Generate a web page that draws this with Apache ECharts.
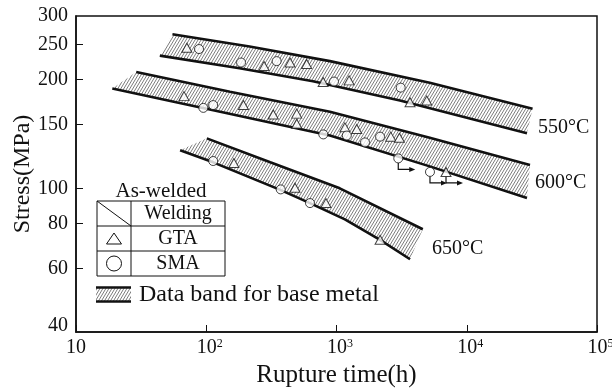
<!DOCTYPE html>
<html>
<head>
<meta charset="utf-8">
<script src="https://cdn.jsdelivr.net/npm/echarts@6/dist/echarts.min.js"></script>
<style>
html,body{margin:0;padding:0;background:#fff;}
#chart{width:612px;height:388px;}
</style>
</head>
<body>
<div id="chart"></div>
<script>
// ---------- data (time in h, stress in MPa) ----------
const xTickLabels = [10, 100, 1000, 10000, 100000];
const yTickLabels = [300, 250, 200, 150, 100, 80, 60, 40];
const yTickMarks = [250, 200, 150, 100, 80, 60];

const band550UpperTime = [55, 215, 890, 5200, 32000];
const band550UpperStress = [267, 247, 225, 196, 166];
const band550LowerTime = [44, 180, 660, 3070, 29000];
const band550LowerStress = [233, 215, 198, 175, 142];

const band600UpperTime = [29, 152, 890, 5200, 30600];
const band600UpperStress = [210, 185, 163, 138, 116];
const band600LowerTime = [19, 128, 890, 5200, 29000];
const band600LowerStress = [189, 163, 140, 115, 94];

const band650UpperTime = [101, 310, 1060, 4600];
const band650UpperStress = [137.5, 118, 100, 77];
const band650LowerTime = [63, 113, 370, 625, 1160, 2160, 3670];
const band650LowerStress = [127.4, 118, 99, 91, 82, 72, 63.6];

const gtaTime = [71, 278, 440, 590, 790, 1250, 3670, 4930, 67.5, 193, 327, 495, 495, 1160, 1430, 2610, 3040, 6930, 163, 480, 830, 2160];
const gtaStress = [245, 218, 223, 221, 197, 199, 173, 175, 180, 170, 160, 161, 151, 147.5, 146, 139, 138, 111, 117.5, 100.4, 91, 72];
const smaTime = [88, 185, 347, 957, 3110, 95, 113, 792, 1200, 1655, 2160, 2980, 5220, 113, 373, 626];
const smaStress = [243, 223, 225, 197.5, 190, 167, 170, 141, 140, 134, 139, 121, 111, 119, 99.3, 91];

// unruptured (runout) specimens
const runoutTime = [2980, 5220, 6930];
const runoutStress = [121, 111, 111];

const bandLabels = ['550°C', '600°C', '650°C'];

// ---------- helpers ----------
const L = Math.log10;
const pairs = (t, s) => t.map((v, i) => [L(v), L(s[i])]);
const FONT = 'Liberation Serif';

// hatch pattern
const hatch = (function () {
  const w = 3, h = 5;
  const c = document.createElement('canvas');
  c.width = w; c.height = h;
  const ctx = c.getContext('2d');
  ctx.fillStyle = '#fff';
  ctx.fillRect(0, 0, w, h);
  ctx.strokeStyle = '#444';
  ctx.lineWidth = 0.7;
  for (let k = -1; k <= 1; k++) {
    ctx.beginPath();
    ctx.moveTo(k * w, h);
    ctx.lineTo(k * w + w, 0);
    ctx.stroke();
  }
  return { image: c, repeat: 'repeat' };
})();

const bands = [
  { ut: band550UpperTime, us: band550UpperStress, lt: band550LowerTime, ls: band550LowerStress },
  { ut: band600UpperTime, us: band600UpperStress, lt: band600LowerTime, ls: band600LowerStress },
  { ut: band650UpperTime, us: band650UpperStress, lt: band650LowerTime, ls: band650LowerStress }
];

const series = [];
bands.forEach(b => {
  const upper = pairs(b.ut, b.us);
  const lower = pairs(b.lt, b.ls);
  const poly = upper.concat(lower.slice().reverse());
  series.push({
    type: 'custom', silent: true, z: 1, data: poly,
    renderItem: (params, api) => {
      if (params.dataIndex !== 0) return;
      const pts = poly.map(p => api.coord(p));
      return { type: 'polygon', shape: { points: pts }, style: { fill: hatch, stroke: null } };
    }
  });
  [upper, lower].forEach(d => series.push({
    type: 'line', data: d, showSymbol: false, silent: true, z: 2,
    lineStyle: { color: '#111', width: 2.6 }
  }));
});

series.push({
  type: 'scatter', name: 'GTA', data: pairs(gtaTime, gtaStress), z: 4,
  symbol: 'triangle', symbolSize: [10, 9],
  itemStyle: { color: '#fff', borderColor: '#111', borderWidth: 1 }
});
series.push({
  type: 'scatter', name: 'SMA', data: pairs(smaTime, smaStress), z: 4,
  symbol: 'circle', symbolSize: 9,
  itemStyle: { color: '#fff', borderColor: '#111', borderWidth: 1 }
});
series.push({
  type: 'custom', silent: true, z: 3, data: pairs(runoutTime, runoutStress),
  renderItem: (params, api) => {
    const p = api.coord([api.value(0), api.value(1)]);
    const x = p[0], y = p[1];
    return {
      type: 'group', children: [
        { type: 'polyline', shape: { points: [[x, y + 4.5], [x, y + 11], [x + 13, y + 11]] }, style: { stroke: '#111', lineWidth: 1.2, fill: null } },
        { type: 'polygon', shape: { points: [[x + 11, y + 8.5], [x + 17, y + 11], [x + 11, y + 13.5]] }, style: { fill: '#111' } }
      ]
    };
  }
});

const supRich = {
  base: { fontFamily: FONT, fontSize: 20, lineHeight: 20, color: '#111' },
  pad: { width: 7, fontSize: 12 },
  sup: { fontFamily: FONT, fontSize: 12, lineHeight: 12, verticalAlign: 'top', color: '#111' }
};

const T = (text, x, y, size, align) => ({
  type: 'text', x: x, y: y,
  style: { text: text, font: size + 'px "' + FONT + '"', fill: '#111', align: align || 'left', verticalAlign: 'middle' }
});

const graphics = [
  T(bandLabels[0], 538, 128, 20),
  T(bandLabels[1], 535, 183, 20),
  T(bandLabels[2], 432, 249, 20),
  // legend table
  T('As-welded', 161, 191, 21, 'center'),
  { type: 'rect', shape: { x: 97, y: 201, width: 128, height: 75 }, style: { fill: '#fff', stroke: '#111', lineWidth: 1 }, z: 10 },
  { type: 'line', shape: { x1: 131, y1: 201, x2: 131, y2: 276 }, style: { stroke: '#111', lineWidth: 1 }, z: 11 },
  { type: 'line', shape: { x1: 97, y1: 226, x2: 225, y2: 226 }, style: { stroke: '#111', lineWidth: 1 }, z: 11 },
  { type: 'line', shape: { x1: 97, y1: 251, x2: 225, y2: 251 }, style: { stroke: '#111', lineWidth: 1 }, z: 11 },
  { type: 'line', shape: { x1: 97, y1: 201, x2: 131, y2: 226 }, style: { stroke: '#111', lineWidth: 1 }, z: 11 },
  Object.assign(T('Welding', 178, 214, 20, 'center'), { z: 11 }),
  Object.assign(T('GTA', 178, 239, 20, 'center'), { z: 11 }),
  Object.assign(T('SMA', 178, 264, 20, 'center'), { z: 11 }),
  { type: 'polygon', shape: { points: [[114, 233], [121.5, 244], [106.5, 244]] }, style: { fill: '#fff', stroke: '#111', lineWidth: 1 }, z: 11 },
  { type: 'circle', shape: { cx: 114, cy: 263.5, r: 7.5 }, style: { fill: '#fff', stroke: '#111', lineWidth: 1 }, z: 11 },
  // band legend swatch
  { type: 'rect', shape: { x: 96, y: 287, width: 35, height: 15 }, style: { fill: hatch, stroke: null }, z: 10 },
  { type: 'line', shape: { x1: 96, y1: 287.5, x2: 131, y2: 287.5 }, style: { stroke: '#111', lineWidth: 2.4 }, z: 11 },
  { type: 'line', shape: { x1: 96, y1: 301.5, x2: 131, y2: 301.5 }, style: { stroke: '#111', lineWidth: 2.4 }, z: 11 },
  T('Data band for base metal', 139, 295, 24)
];

const chart = echarts.init(document.getElementById('chart'), null, { renderer: 'canvas' });
chart.setOption({
  animation: false,
  backgroundColor: '#fff',
  grid: { left: 76, right: 15, top: 16, bottom: 56, show: true, borderColor: '#111', borderWidth: 1.5, backgroundColor: 'transparent', outerBoundsMode: 'none', containLabel: false },
  xAxis: {
    type: 'value', min: L(xTickLabels[0]), max: L(xTickLabels[xTickLabels.length - 1]), interval: 1,
    name: 'Rupture time(h)', nameLocation: 'middle', nameGap: 30,
    nameTextStyle: { fontFamily: FONT, fontSize: 25, color: '#111' },
    axisLine: { lineStyle: { color: '#111', width: 1.5 } },
    axisTick: { inside: true, length: 7, lineStyle: { color: '#111', width: 1 } },
    splitLine: { show: false },
    axisLabel: {
      margin: 6, color: '#111', fontFamily: FONT, fontSize: 20,
      formatter: v => {
        const e = Math.round(v);
        return e === 1 ? '{base|10}' : '{pad| }{base|10}{sup|' + e + '}';
      },
      rich: supRich
    }
  },
  yAxis: {
    type: 'value', min: L(yTickLabels[yTickLabels.length - 1]), max: L(yTickLabels[0]),
    name: 'Stress(MPa)', nameLocation: 'middle', nameGap: 41, nameRotate: 90, nameMoveOverlap: false,
    nameTextStyle: { fontFamily: FONT, fontSize: 24, color: '#111' },
    axisLine: { lineStyle: { color: '#111', width: 1.5 } },
    axisTick: { inside: true, length: 7, customValues: yTickMarks.map(L), lineStyle: { color: '#111', width: 1 } },
    splitLine: { show: false },
    axisLabel: {
      margin: 8, color: '#111', fontFamily: FONT, fontSize: 20,
      customValues: yTickLabels.map(L),
      formatter: v => {
        const n = Math.round(Math.pow(10, v));
        return n === yTickLabels[yTickLabels.length - 1] ? '{low|' + n + '}' : String(n);
      },
      rich: { low: { fontFamily: FONT, fontSize: 20, color: '#111', padding: [0, 0, 13, 0] } }
    }
  },
  series: series,
  graphic: graphics
});
</script>
</body>
</html>
